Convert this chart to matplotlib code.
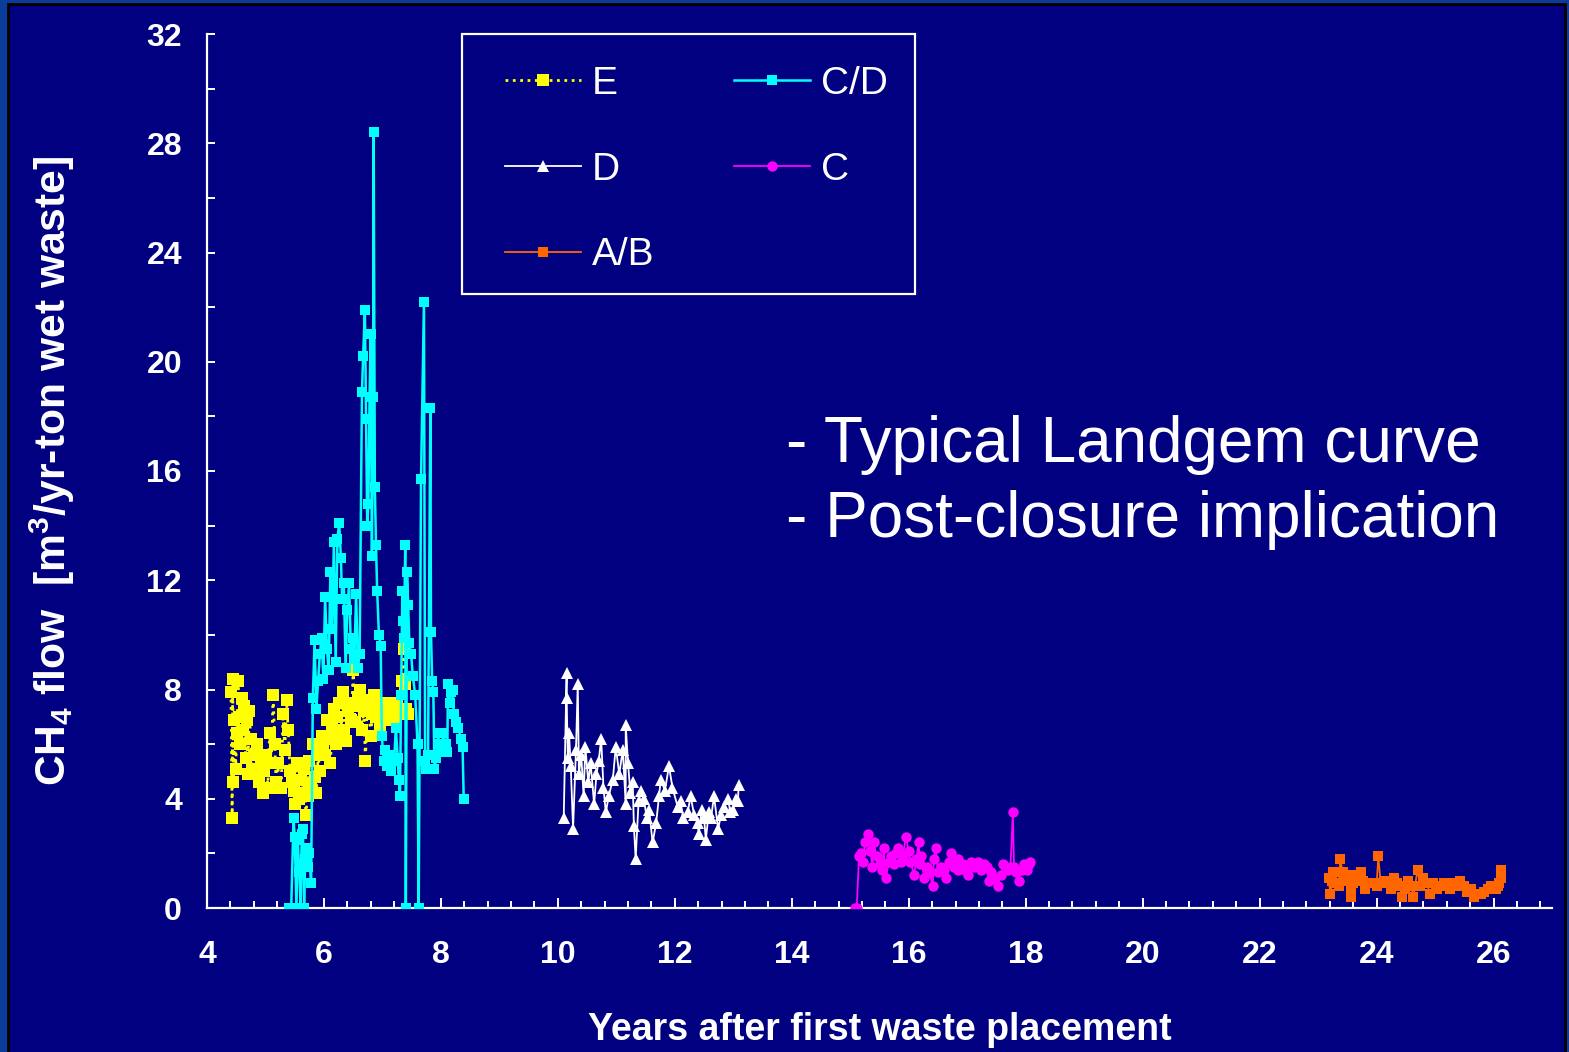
import matplotlib
matplotlib.use('Agg')
import matplotlib.pyplot as plt
from matplotlib.patches import Rectangle
from matplotlib.ticker import MultipleLocator

plt.rcParams['font.family'] = ['Liberation Sans', 'DejaVu Sans']
plt.rcParams['mathtext.fontset'] = 'custom'
plt.rcParams['mathtext.rm'] = 'Liberation Sans'
plt.rcParams['mathtext.bf'] = 'Liberation Sans:bold'

# landfill cells, years after first placement vs CH4 flow (m3/yr-ton)
e_years = [4.41, 4.43, 4.44, 4.45, 4.47, 4.49, 4.51, 4.53, 4.55, 4.57, 4.59, 4.61, 4.63, 4.66,
           4.68, 4.70, 4.72, 4.75, 4.77, 4.80, 4.83, 4.86, 4.89, 4.92, 4.95, 4.98, 5.01, 5.04,
           5.07, 5.10, 5.13, 5.16, 5.18, 5.21, 5.24, 5.27, 5.30, 5.33, 5.36, 5.39, 5.42, 5.45,
           5.48, 5.51, 5.54, 5.57, 5.60, 5.63, 5.66, 5.69, 5.72, 5.75, 5.78, 5.81, 5.84, 5.87,
           5.90, 5.93, 5.96, 5.99, 6.02, 6.05, 6.08, 6.11, 6.14, 6.17, 6.20, 6.23, 6.26, 6.29,
           6.32, 6.35, 6.38, 6.41, 6.44, 6.47, 6.50, 6.53, 6.56, 6.59, 6.62, 6.65, 6.68, 6.71,
           6.74, 6.77, 6.80, 6.83, 6.86, 6.89, 6.92, 6.95, 6.98, 7.01, 7.04, 7.07, 7.10, 7.13,
           7.16, 7.19, 7.22, 7.25, 7.28, 7.31, 7.34, 7.37, 7.39, 7.41, 7.43]
e_flow = [7.9, 3.3, 8.4, 4.6, 6.9, 5.1, 6.4, 8.3, 7.0, 6.0, 7.7, 6.5, 7.4, 5.5,
          6.9, 4.9, 7.2, 6.2, 5.1, 5.6, 4.9, 6.0, 4.6, 5.3, 4.2, 5.0, 5.6, 4.4,
          6.4, 5.3, 7.8, 6.0, 4.6, 5.3, 4.4, 4.4, 7.1, 5.8, 7.6, 6.5, 5.0, 4.6,
          4.3, 3.8, 5.3, 4.0, 4.7, 4.2, 5.1, 3.4, 4.1, 5.4, 4.5, 6.0, 4.8, 4.2,
          5.6, 5.0, 6.3, 5.9, 5.6, 6.9, 6.2, 5.3, 6.6, 7.3, 6.0, 7.0, 7.5, 6.4,
          7.9, 6.5, 6.1, 7.2, 7.5, 6.9, 8.7, 6.8, 7.4, 7.7, 8.0, 6.5, 7.2, 5.4,
          7.6, 7.2, 6.3, 7.1, 7.8, 7.0, 7.4, 6.6, 7.2, 7.0, 7.5, 7.3, 7.1, 6.9,
          7.4, 7.2, 7.0, 7.5, 7.3, 7.1, 8.3, 9.5, 8.2, 7.3, 7.1]

cd_years = [5.40, 5.44, 5.48, 5.50, 5.53, 5.55, 5.58, 5.60, 5.62, 5.64, 5.66, 5.68, 5.70, 5.72,
            5.75, 5.78, 5.81, 5.84, 5.87, 5.90, 5.93, 5.96, 5.99, 6.02, 6.05, 6.08, 6.11, 6.14,
            6.17, 6.20, 6.23, 6.26, 6.29, 6.31, 6.34, 6.37, 6.40, 6.43, 6.46, 6.49, 6.52, 6.55,
            6.58, 6.61, 6.65, 6.67, 6.70, 6.72, 6.74, 6.76, 6.78, 6.80, 6.82, 6.84, 6.85, 6.87,
            6.89, 6.91, 6.94, 6.97, 6.99, 7.02, 7.05, 7.08, 7.11, 7.14, 7.17, 7.20, 7.23, 7.26,
            7.28, 7.30, 7.32, 7.34, 7.36, 7.37, 7.39, 7.40, 7.42, 7.44, 7.46, 7.49, 7.52, 7.56,
            7.60, 7.62, 7.66, 7.71, 7.73, 7.75, 7.78, 7.82, 7.83, 7.85, 7.87, 7.89, 7.92, 7.95,
            7.97, 8.00, 8.04, 8.08, 8.11, 8.12, 8.15, 8.17, 8.20, 8.22, 8.26, 8.30, 8.34, 8.37,
            8.39]
cd_flow = [0.0, 0.0, 3.3, 2.6, 0.0, 2.5, 1.3, 0.0, 2.7, 2.9, 0.0, 1.8, 2.2, 1.5,
           2.0, 0.9, 7.7, 9.8, 7.3, 8.3, 9.3, 9.9, 8.4, 11.4, 9.5, 8.7, 12.3, 10.2,
           13.4, 9.0, 13.5, 14.1, 12.8, 11.3, 11.9, 8.8, 10.9, 11.9, 9.5, 9.9, 9.1, 11.5,
           8.8, 9.3, 18.9, 20.2, 21.9, 17.9, 14.0, 14.8, 18.7, 21.0, 12.9, 18.7, 28.4, 15.4,
           13.3, 11.6, 10.0, 9.6, 6.3, 5.4, 5.8, 5.2, 5.6, 5.0, 5.5, 5.4, 6.6, 5.5,
           4.7, 4.1, 7.8, 11.6, 10.5, 9.9, 13.3, 0.0, 12.3, 11.1, 9.7, 9.3, 8.5, 7.8,
           6.0, 0.0, 15.7, 22.2, 5.4, 5.1, 5.6, 18.3, 10.1, 8.3, 7.9, 5.1, 5.5, 6.4,
           6.0, 5.7, 6.4, 6.0, 5.7, 8.2, 7.5, 7.9, 8.0, 7.1, 6.8, 6.6, 6.2, 5.9,
           4.0]

d_years = [10.10, 10.15, 10.15, 10.17, 10.19, 10.22, 10.26, 10.31, 10.34, 10.36, 10.40, 10.44,
           10.47, 10.52, 10.56, 10.62, 10.66, 10.70, 10.74, 10.78, 10.82, 10.87, 10.94, 10.99,
           11.05, 11.11, 11.16, 11.16, 11.20, 11.24, 11.28, 11.30, 11.33, 11.38, 11.42, 11.47,
           11.52, 11.56, 11.62, 11.68, 11.73, 11.76, 11.83, 11.90, 11.96, 12.05, 12.10, 12.14,
           12.22, 12.27, 12.33, 12.39, 12.41, 12.46, 12.50, 12.53, 12.58, 12.62, 12.67, 12.74,
           12.79, 12.84, 12.91, 12.95, 12.99, 13.04, 13.08, 13.09]
d_flow = [3.3, 8.6, 7.7, 5.5, 6.4, 5.2, 2.9, 5.8, 8.2, 4.9, 5.6, 4.1,
          5.9, 4.6, 5.3, 3.8, 4.9, 5.4, 6.2, 4.4, 3.5, 4.1, 4.7, 5.9,
          4.9, 5.8, 3.8, 6.7, 5.3, 4.2, 4.6, 3.0, 1.8, 3.9, 4.3, 4.0,
          3.3, 3.6, 2.4, 3.1, 4.1, 4.7, 4.3, 5.2, 4.4, 3.7, 3.9, 3.3,
          3.5, 4.1, 3.4, 3.1, 2.7, 3.6, 3.3, 2.5, 3.5, 3.3, 4.1, 2.9,
          3.4, 3.7, 4.0, 3.5, 3.6, 4.0, 3.9, 4.5]

c_years = [15.08, 15.11, 15.15, 15.18, 15.21, 15.26, 15.30, 15.34, 15.38, 15.40, 15.45, 15.50,
           15.55, 15.57, 15.61, 15.66, 15.70, 15.75, 15.78, 15.81, 15.86, 15.90, 15.95, 16.00,
           16.03, 16.09, 16.13, 16.17, 16.19, 16.21, 16.26, 16.31, 16.36, 16.41, 16.43, 16.46,
           16.50, 16.55, 16.60, 16.63, 16.68, 16.72, 16.78, 16.84, 16.85, 16.92, 16.96, 17.01,
           17.06, 17.12, 17.18, 17.23, 17.28, 17.33, 17.37, 17.40, 17.46, 17.52, 17.57, 17.62,
           17.69, 17.74, 17.78, 17.80, 17.84, 17.88, 17.93, 17.97, 18.03, 18.05, 18.08]
c_flow = [0.0, 0.0, 1.9, 2.0, 1.7, 2.4, 2.7, 2.1, 1.5, 2.4, 1.9, 1.6,
          1.4, 2.2, 1.1, 1.7, 1.9, 1.6, 2.0, 2.2, 1.7, 1.9, 2.6, 2.1,
          1.7, 1.2, 1.8, 2.4, 1.6, 1.9, 1.1, 1.5, 1.3, 0.8, 1.8, 2.2,
          1.3, 1.5, 1.4, 1.1, 1.7, 2.0, 1.5, 1.4, 1.8, 1.6, 1.4, 1.2,
          1.7, 1.5, 1.7, 1.4, 1.6, 1.5, 1.0, 1.3, 1.1, 0.8, 1.2, 1.6,
          1.4, 1.5, 3.5, 1.5, 1.3, 1.0, 1.4, 1.6, 1.4, 1.6, 1.7]

ab_years = [23.18, 23.21, 23.24, 23.26, 23.30, 23.35, 23.38, 23.42, 23.46, 23.50, 23.53, 23.56,
            23.56, 23.60, 23.64, 23.69, 23.73, 23.77, 23.81, 23.87, 23.95, 24.00, 24.03, 24.07,
            24.13, 24.19, 24.24, 24.29, 24.35, 24.41, 24.44, 24.49, 24.54, 24.59, 24.63, 24.70,
            24.75, 24.80, 24.86, 24.92, 24.97, 25.03, 25.09, 25.15, 25.20, 25.26, 25.32, 25.38,
            25.43, 25.49, 25.55, 25.61, 25.66, 25.72, 25.78, 25.84, 25.90, 25.95, 25.98, 26.04,
            26.08, 26.10, 26.12, 26.13]
ab_flow = [1.1, 0.5, 1.0, 1.3, 0.9, 0.8, 1.8, 1.3, 1.1, 1.0, 1.2, 0.7,
           0.4, 0.9, 1.2, 1.0, 1.3, 1.0, 0.7, 0.9, 0.9, 0.8, 1.9, 0.9,
           1.0, 0.9, 0.7, 1.1, 0.9, 0.8, 0.4, 0.7, 1.0, 0.8, 0.4, 1.4,
           0.8, 1.1, 0.9, 0.5, 0.9, 0.7, 0.8, 0.9, 0.8, 0.7, 0.9, 0.8,
           1.0, 0.8, 0.6, 0.7, 0.4, 0.5, 0.5, 0.6, 0.7, 0.8, 0.8, 0.7,
           0.8, 0.9, 1.1, 1.4]

navy = '#000080'
fig = plt.figure(figsize=(15.69, 10.52), dpi=100, facecolor='#0A3C9C')
fig.patches.append(Rectangle((8 / 1569, -0.01), 1557 / 1569, 1.01 - 4 / 1052,
                             transform=fig.transFigure, facecolor=navy,
                             edgecolor='black', linewidth=2, zorder=-10))

ax = fig.add_axes([207 / 1569, 1 - 908 / 1052, 1345 / 1569, 874 / 1052])
ax.set_facecolor(navy)

ax.plot(e_years, e_flow, color='#FFFF00', linestyle=':', linewidth=2, marker='s',
        markersize=8, markeredgewidth=0, label='E', zorder=3)
ax.plot(cd_years, cd_flow, color='#00FFFF', linewidth=1.8, marker='s',
        markersize=7, markeredgewidth=0, label='C/D', zorder=4)
ax.plot(d_years, d_flow, color='white', linewidth=1.3, marker='^',
        markersize=8.5, markeredgewidth=0, label='D', zorder=3)
ax.plot(c_years, c_flow, color='#FF00FF', linewidth=1.3, marker='o',
        markersize=7.5, markeredgewidth=0, label='C', zorder=3)
ax.plot(ab_years, ab_flow, color='#FF6600', linewidth=1.3, marker='s',
        markersize=7.5, markeredgewidth=0, label='A/B', zorder=3)

ax.set_xlim(4, 27)
ax.set_ylim(0, 32)
ax.set_xticks(range(4, 27, 2))
ax.xaxis.set_minor_locator(MultipleLocator(0.4))
ax.yaxis.set_major_locator(MultipleLocator(4))
ax.yaxis.set_minor_locator(MultipleLocator(2))
for side in ['top', 'right']:
    ax.spines[side].set_visible(False)
for side in ['left', 'bottom']:
    ax.spines[side].set_color('white')
    ax.spines[side].set_linewidth(1.6)
ax.tick_params(axis='both', which='both', direction='in', colors='white', width=1.4)
ax.tick_params(axis='x', which='major', length=7, pad=23)
ax.tick_params(axis='x', which='minor', length=5)
ax.tick_params(axis='y', which='both', length=6, pad=18)
for lab in ax.get_xticklabels() + ax.get_yticklabels():
    lab.set_fontsize(23)
    lab.set_fontweight('bold')

ax.set_xlabel('Years after first waste placement', fontsize=27, fontweight='bold',
              color='white', labelpad=30)
ax.set_ylabel(r'CH$_\mathbf{4}$ flow  [m$^\mathbf{3}$/yr-ton wet waste]', fontsize=30.7,
              fontweight='bold', color='white', labelpad=50)

# legend frame drawn separately so the entries can sit where they should
ax.add_patch(Rectangle((0.1896, 0.7025), 0.3368, 0.2975, transform=ax.transAxes,
                       facecolor=navy, edgecolor='white', linewidth=1.6,
                       clip_on=False, zorder=5))
h, l = ax.get_legend_handles_labels()
order = [0, 2, 4, 1, 3]
leg = ax.legend([h[i] for i in order], [l[i] for i in order], ncol=2, loc='upper left',
                bbox_to_anchor=(0.2216, 0.9635), borderaxespad=0, fontsize=28,
                handlelength=1.95, handletextpad=0.28, columnspacing=2.05,
                labelspacing=1.28, borderpad=0, numpoints=1, frameon=False)
leg.set_zorder(6)
for t in leg.get_texts():
    t.set_color('white')

ax.text(13.9, 16.95, '- Typical Landgem curve', fontsize=46, color='white',
        ha='left', va='center')
ax.text(13.9, 14.2, '- Post-closure implication', fontsize=46, color='white',
        ha='left', va='center')

fig.savefig('out.png', dpi=100, facecolor=fig.get_facecolor())
